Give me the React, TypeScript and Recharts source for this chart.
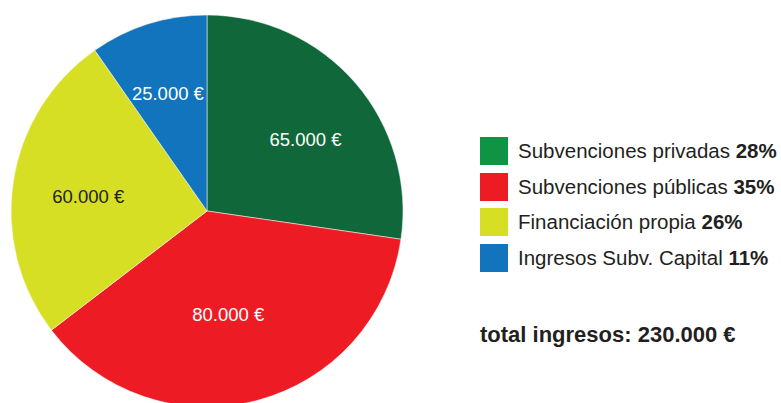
import React from "react";
import { PieChart, Pie, Cell, Legend } from "recharts";

// Categories
const categories = [
  "Subvenciones privadas",
  "Subvenciones públicas",
  "Financiación propia",
  "Ingresos Subv. Capital",
];
// Amounts printed on the slices
const amountLabels = ["65.000 €", "80.000 €", "60.000 €", "25.000 €"];
// Slice sizes as drawn in the picture (share of circle, %)
const sliceShares = [27.3, 37.3, 25.7, 9.7];
// Percentages printed in the legend
const legendPercents = ["28%", "35%", "26%", "11%"];
const totalLabel = "total ingresos: 230.000 €";

const pieColors = ["#10683a", "#ed1c24", "#d6df23", "#1174bc"];
const legendColors = ["#0f9444", "#ed1c24", "#d6df23", "#1174bc"];
const labelColors = ["#ffffff", "#ffffff", "#231f20", "#ffffff"];
const labelRadiusFactors = [0.62, 0.54, 0.61, 0.63];
const labelAngleShift = [-5, -3, 2, 1];

const data = categories.map((name, i) => ({
  name,
  value: sliceShares[i],
  label: amountLabels[i],
}));

const RAD = Math.PI / 180;
const FONT = "'Liberation Sans', Arial, Helvetica, sans-serif";

const renderLabel = (props: any) => {
  const { cx, cy, midAngle, outerRadius, index } = props;
  const r = outerRadius * labelRadiusFactors[index];
  const a = midAngle + labelAngleShift[index];
  const x = cx + r * Math.cos(-a * RAD);
  const y = cy + r * Math.sin(-a * RAD);
  return (
    <text
      x={x}
      y={y}
      fill={labelColors[index]}
      textAnchor="middle"
      dominantBaseline="central"
      fontSize={18.5}
      fontFamily={FONT}
    >
      {amountLabels[index]}
    </text>
  );
};

const LegendContent = () => (
  <div style={{ fontFamily: FONT, color: "#231f20" }}>
    {categories.map((c, i) => (
      <div
        key={c}
        style={{ display: "flex", alignItems: "center", height: 35.7 }}
      >
        <div
          style={{
            width: 28,
            height: 28,
            background: legendColors[i],
            marginRight: 10,
            flexShrink: 0,
          }}
        />
        <span style={{ fontSize: 20.5, whiteSpace: "nowrap" }}>
          {c} <b>{legendPercents[i]}</b>
        </span>
      </div>
    ))}
    <div
      style={{
        marginTop: 46,
        fontSize: 22,
        fontWeight: "bold",
        whiteSpace: "nowrap",
      }}
    >
      {totalLabel}
    </div>
  </div>
);

export default function App() {
  return (
    <div style={{ position: "absolute", left: 0, top: 0, width: 781, height: 403, background: "#fff" }}>
      <PieChart width={781} height={403} margin={{ top: 0, right: 0, bottom: 0, left: 0 }}>
        <Pie
          data={data}
          dataKey="value"
          nameKey="name"
          cx={207}
          cy={211}
          outerRadius={196}
          startAngle={90}
          endAngle={-270}
          stroke="#ffffff"
          strokeWidth={0.5}
          label={renderLabel}
          labelLine={false}
          isAnimationActive={false}
        >
          {data.map((d, i) => (
            <Cell key={d.name} fill={pieColors[i]} />
          ))}
        </Pie>
        <Legend
          content={<LegendContent />}
          wrapperStyle={{ position: "absolute", left: 480, top: 133, width: 300 }}
        />
      </PieChart>
    </div>
  );
}
